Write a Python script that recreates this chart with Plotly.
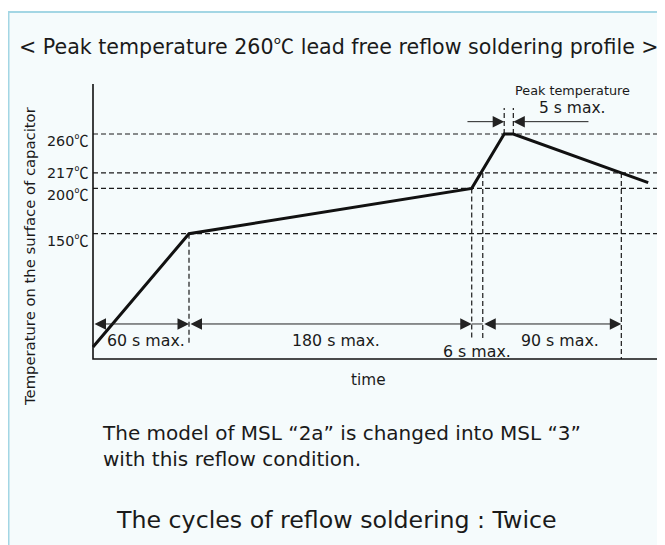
import plotly.graph_objects as go

# ---------------- data (schematic time units, temperature in degC) ----------------
profile_time = [0, 60, 236.7, 257, 262.7, 347]
profile_temp = [25, 150, 200, 260, 260, 206.3]

levels = [150, 200, 217, 260]
level_labels = ["150", "200", "217", "260"]

# time markers (start/end of intervals)
t_start, t_preheat_end, t_200, t_217_up, t_217_down = 0, 60, 236.7, 243.6, 330.2
t_peak_start, t_peak_end = 257, 262.7

interval_labels = ["60 s max.", "180 s max.", "6 s max.", "90 s max."]

DEG = "<span style=\"font-family:'Noto Sans CJK JP'\">℃</span>"
title_text = "< Peak temperature 260" + DEG + " lead free reflow soldering profile >"
ytitle = "Temperature on the surface of capacitor"
xtitle = "time"
note1 = "The model of MSL “2a” is changed into MSL “3”<br>with this reflow condition."
note2 = "The cycles of reflow soldering : Twice"

# ---------------- layout / style constants ----------------
OFF = 8                      # page body margin
W, H = 665 - OFF, 545 - OFF
PX_PER_T = 1.6
PX_PER_C = 0.9064
X0_PX, Y150_PX = 93 - OFF, 233.7 - OFF
X_MIN = -X0_PX / PX_PER_T
X_MAX = (W - X0_PX) / PX_PER_T
Y_MAX = 150 + Y150_PX / PX_PER_C
Y_MIN = 150 - (H - Y150_PX) / PX_PER_C
T_AXIS = 11.8          # temperature where time axis sits
T_TOP = 315.2          # top of temperature axis
T_END = 353            # end of time axis
T_ARROW = 50.4         # height of interval arrows
FONT = "DejaVu Sans"
INK = "#1a1a1a"
LABEL_SHIFT = {150: -6, 200: -5, 217: 1.5, 260: -5}

fig = go.Figure()

def line(xs, ys, width=1.0, dash=None, color=INK):
    fig.add_trace(go.Scatter(x=xs, y=ys, mode="lines", hoverinfo="skip",
                             line=dict(color=color, width=width, dash=dash)))

DASH = "5px,3px"
for lv in levels:
    line([t_start, T_END], [lv, lv], 1.2, DASH)

line([t_preheat_end] * 2, [150, 27.2], 1.2, DASH)
line([t_200] * 2, [200, 35], 1.2, DASH)
line([t_217_up] * 2, [217, 35], 1.2, DASH)
line([t_217_down] * 2, [217, T_AXIS], 1.2, DASH)
line([t_peak_start] * 2, [260, 288.7], 1.2, DASH)
line([t_peak_end] * 2, [260, 288.7], 1.2, DASH)

line([t_start, t_start, T_END], [T_TOP, T_AXIS, T_AXIS], 1.6, None, "#111")
line([t_200, t_217_up], [T_ARROW, T_ARROW], 1.0, None, "#333")
line(profile_time, profile_temp, 3.0, None, "#111")

ann = []

def arrow(x_tip, x_tail, y, both=True):
    ann.append(dict(x=x_tip, y=y, ax=x_tail, ay=y, xref="x", yref="y",
                    axref="x", ayref="y", text="", showarrow=True,
                    arrowhead=2, arrowsize=2.3, arrowwidth=1.0,
                    arrowcolor="#222", standoff=0, startstandoff=0,
                    arrowside="end+start" if both else "end",
                    startarrowhead=2, startarrowsize=2.3))

arrow(t_preheat_end, t_start, T_ARROW)
arrow(t_200, t_preheat_end, T_ARROW)
arrow(t_217_down, t_217_up, T_ARROW)
arrow(t_peak_start, 233.1, 273.6, both=False)
arrow(t_peak_end, 310.6, 273.6, both=False)

def text(x, y, s, size, xanchor="center", xref="x", yref="y", **kw):
    d = dict(x=x, y=y, xref=xref, yref=yref, text=s, showarrow=False,
             xanchor=xanchor, yanchor="middle",
             font=dict(family=FONT, size=size, color=INK))
    d.update(kw)
    ann.append(d)

for lv, lab in zip(levels, level_labels):
    text(t_start, lv, lab + DEG, 14.3, xanchor="right", xshift=-2,
         yshift=LABEL_SHIFT[lv])

text(33.1, 32.7, interval_labels[0], 15.8)
text(151.9, 32.7, interval_labels[1], 15.8)
text(239.8, 19.8, interval_labels[2], 15.8)
text(291.9, 32.7, interval_labels[3], 15.8)
text(171.9, -11.4, xtitle, 15.3)
text(299.8, 307.8, "Peak temperature", 12.8)
text(299.8, 288.7, "5 s max.", 15.5)

def px(x):
    return (x - OFF) / W

def py(y):
    return 1 - (y - OFF) / H

text(px(339), py(45), title_text, 20.6, xref="paper", yref="paper")
text(px(30), py(256), ytitle, 14.8, xref="paper", yref="paper", textangle=-90)
text(px(100), py(446), note1, 20, xanchor="left", xref="paper", yref="paper", align="left")
text(px(114), py(520), note2, 23.7, xanchor="left", xref="paper", yref="paper")

fig.update_layout(
    width=W, height=H, margin=dict(l=0, r=0, t=0, b=0),
    paper_bgcolor="white", plot_bgcolor="rgba(0,0,0,0)",
    showlegend=False, annotations=ann,
    xaxis=dict(range=[X_MIN, X_MAX], visible=False, fixedrange=True),
    yaxis=dict(range=[Y_MIN, Y_MAX], visible=False, fixedrange=True),
    shapes=[dict(type="rect", xref="paper", yref="paper", layer="below",
                 x0=px(8.5), x1=px(700), y0=py(12), y1=py(600),
                 fillcolor="#f5fbfc", line=dict(color="#a3d6e4", width=2))],
)

fig.write_html("out.html", config={"displayModeBar": False})
